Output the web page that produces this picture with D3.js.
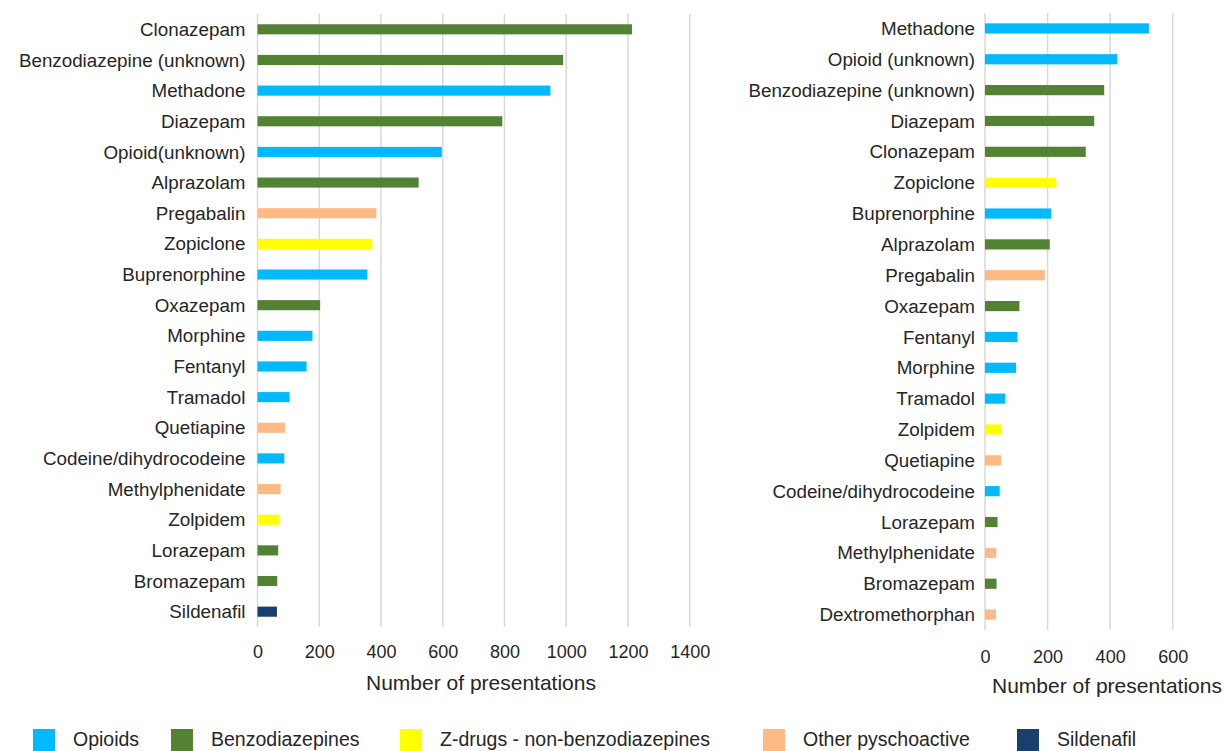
<!DOCTYPE html>
<html>
<head>
<meta charset="utf-8">
<script src="https://cdn.jsdelivr.net/npm/d3@7"></script>
<style>
  html, body { margin: 0; padding: 0; background: #fff; }
  svg { display: block; font-family: Arial, "Liberation Sans", sans-serif; }
</style>
</head>
<body>
<svg id="chart" width="1225" height="751"></svg>
<script>
// ---- Data ----
const groups = ["Opioids", "Benzodiazepines", "Z-drugs - non-benzodiazepines", "Other pyschoactive", "Sildenafil"];
const groupColors = ["#00B9FF", "#548235", "#FFFF00", "#FFB985", "#17406D"];

const leftDrugs = ["Clonazepam", "Benzodiazepine (unknown)", "Methadone", "Diazepam", "Opioid(unknown)",
  "Alprazolam", "Pregabalin", "Zopiclone", "Buprenorphine", "Oxazepam", "Morphine", "Fentanyl",
  "Tramadol", "Quetiapine", "Codeine/dihydrocodeine", "Methylphenidate", "Zolpidem", "Lorazepam",
  "Bromazepam", "Sildenafil"];
const leftValues = [1213, 990, 949, 793, 597, 522, 385, 372, 356, 203, 178, 159, 104, 89, 87, 75, 72, 67, 64, 63];
const leftGroups = [1, 1, 0, 1, 0, 1, 3, 2, 0, 1, 0, 0, 0, 3, 0, 3, 2, 1, 1, 4];
const leftTicks = [0, 200, 400, 600, 800, 1000, 1200, 1400];

const rightDrugs = ["Methadone", "Opioid (unknown)", "Benzodiazepine (unknown)", "Diazepam", "Clonazepam",
  "Zopiclone", "Buprenorphine", "Alprazolam", "Pregabalin", "Oxazepam", "Fentanyl", "Morphine",
  "Tramadol", "Zolpidem", "Quetiapine", "Codeine/dihydrocodeine", "Lorazepam", "Methylphenidate",
  "Bromazepam", "Dextromethorphan"];
const rightValues = [524, 423, 381, 349, 322, 228, 212, 207, 191, 110, 104, 99, 65, 54, 52, 47, 40, 36, 37, 35];
const rightGroups = [0, 0, 1, 1, 1, 2, 0, 1, 3, 1, 0, 0, 0, 2, 3, 0, 1, 3, 1, 3];
const rightTicks = [0, 200, 400, 600];

const axisTitle = "Number of presentations";

// ---- Drawing ----
const svg = d3.select("#chart");
const textColor = "#262626";
const gridColor = "#D9D9D9";

function panel(cfg) {
  const x = d3.scaleLinear().domain(cfg.domain).range(cfg.xRange);
  const y = d3.scaleBand().domain(cfg.drugs).range(cfg.yRange)
    .paddingInner(0.67).paddingOuter(0.335);
  const g = svg.append("g");

  // gridlines
  g.append("g").selectAll("line").data(cfg.ticks).join("line")
    .attr("x1", d => x(d)).attr("x2", d => x(d))
    .attr("y1", cfg.yRange[0]).attr("y2", cfg.yRange[1])
    .attr("stroke", gridColor).attr("stroke-width", 1.5);

  // bars
  g.append("g").selectAll("rect").data(cfg.drugs).join("rect")
    .attr("x", x(0))
    .attr("y", d => y(d))
    .attr("width", (d, i) => x(cfg.values[i]) - x(0))
    .attr("height", y.bandwidth())
    .attr("fill", (d, i) => groupColors[cfg.groups[i]]);

  // category labels
  g.append("g").selectAll("text").data(cfg.drugs).join("text")
    .attr("x", x(0) - cfg.labelGap)
    .attr("y", d => y(d) + y.bandwidth() / 2)
    .attr("dy", "0.35em")
    .attr("text-anchor", "end")
    .attr("font-size", 18.8)
    .attr("fill", textColor)
    .text(d => d);

  // x axis tick labels
  const ax = g.append("g").attr("transform", `translate(0,${cfg.tickY})`)
    .call(d3.axisBottom(x).tickValues(cfg.ticks).tickSize(0).tickPadding(0).tickFormat(d3.format("d")));
  ax.select(".domain").remove();
  ax.selectAll("text").attr("font-size", 18).attr("fill", textColor)
    .attr("font-family", "Arial, 'Liberation Sans', sans-serif").attr("dy", "0.35em").attr("y", 0);

  // axis title
  g.append("text")
    .attr("x", cfg.titleX).attr("y", cfg.titleY)
    .attr("dy", "0.35em")
    .attr("text-anchor", "middle")
    .attr("font-size", 21)
    .attr("fill", textColor)
    .text(axisTitle);
}

panel({
  drugs: leftDrugs, values: leftValues, groups: leftGroups, ticks: leftTicks,
  domain: [0, 1400], xRange: [257.5, 689.7], yRange: [14, 627],
  labelGap: 12, tickY: 652, titleX: 481, titleY: 683
});

panel({
  drugs: rightDrugs, values: rightValues, groups: rightGroups, ticks: rightTicks,
  domain: [0, 600], xRange: [985, 1172.7], yRange: [13, 630],
  labelGap: 10, tickY: 657, titleX: 1107, titleY: 686
});

// legend
const legendX = [33, 171, 400, 763, 1017];
const leg = svg.append("g");
const items = leg.selectAll("g").data(groups).join("g")
  .attr("transform", (d, i) => `translate(${legendX[i]},729)`);
items.append("rect").attr("x", 0).attr("y", 0).attr("width", 22).attr("height", 30)
  .attr("fill", (d, i) => groupColors[i]);
items.append("text").attr("x", 40).attr("y", 16.5)
  .attr("font-size", 19.5).attr("fill", textColor).text(d => d);
</script>
</body>
</html>
